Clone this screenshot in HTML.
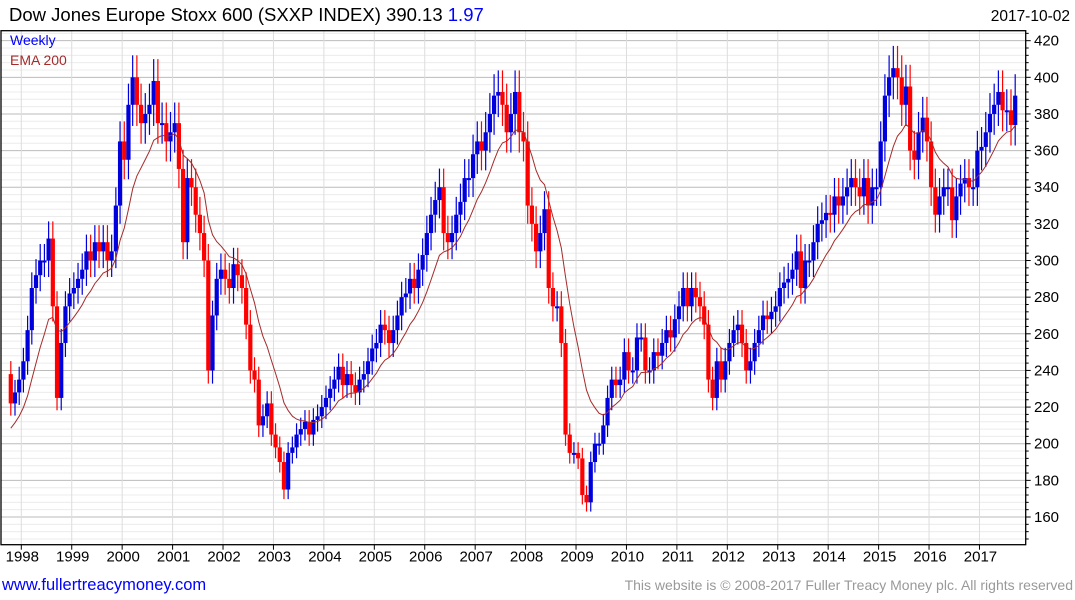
<!DOCTYPE html>
<html><head><meta charset="utf-8"><style>
body{margin:0;background:#fff;width:1075px;height:600px;overflow:hidden;font-family:"Liberation Sans",sans-serif}
svg{position:absolute;left:0;top:0}
</style></head><body>
<svg id="c" width="1075" height="600" xmlns="http://www.w3.org/2000/svg">
<text x="9" y="21" font-size="18.5" fill="#000">Dow Jones Europe Stoxx 600 (SXXP INDEX) 390.13 <tspan fill="#0000ff">1.97</tspan></text>
<text x="1070" y="21" font-size="15.5" text-anchor="end" fill="#000">2017-10-02</text>
<g id="grid"></g><g id="bars"></g><g id="ema"></g><g id="axes"></g>
<text x="10" y="45" font-size="14" fill="#0000ff">Weekly</text>
<text x="10" y="65" font-size="14" fill="#a52a2a">EMA 200</text>
<text x="2" y="590" font-size="16.5" fill="#0000ff">www.fullertreacymoney.com</text>
<text x="1073" y="590" font-size="14" text-anchor="end" fill="#999">This website is © 2008-2017 Fuller Treacy Money plc. All rights reserved</text>
</svg>
<script>
// monthly closes, Oct 1997 .. Sep 2017
const closes1997 = [222,228,235];
const closes1998 = [245,262,285,292,300,300,312,275,225,255,275,282];
const closes1999 = [285,290,295,305,300,310,305,310,300,305,330,365];
const closes2000 = [355,385,400,385,375,380,385,398,375,375,365,370];
const closes2001 = [375,350,310,345,340,325,315,300,240,270,290,295];
const closes2002 = [290,285,298,292,285,265,240,235,210,215,222,205];
const closes2003 = [198,190,175,195,198,205,208,212,205,213,215,220];
const closes2004 = [225,230,235,242,232,238,232,228,235,238,245,252];
const closes2005 = [255,265,262,255,262,270,280,282,290,285,295,303];
const closes2006 = [315,325,333,340,315,310,315,325,332,345,345,358];
const closes2007 = [365,360,370,380,390,392,385,370,380,392,370,365];
const closes2008 = [330,320,305,315,328,285,275,275,255,205,195,195];
const closes2009 = [192,172,168,190,200,200,210,225,235,232,235,250];
const closes2010 = [240,240,258,258,240,240,250,248,255,262,258,268];
const closes2011 = [275,285,275,285,280,275,265,235,225,245,235,245];
const closes2012 = [255,262,265,255,240,245,255,262,270,268,272,275];
const closes2013 = [285,288,290,295,305,285,300,300,310,320,322,326];
const closes2014 = [325,335,330,335,340,345,340,335,345,330,340,340];
const closes2015 = [365,390,400,405,400,385,395,360,355,370,378,365];
const closes2016 = [340,325,335,340,340,322,335,342,345,340,340,360];
const closes2017 = [362,370,380,385,392,382,382,374,390];
const closes = [].concat(closes1997,closes1998,closes1999,closes2000,closes2001,closes2002,closes2003,closes2004,closes2005,closes2006,closes2007,closes2008,closes2009,closes2010,closes2011,closes2012,closes2013,closes2014,closes2015,closes2016,closes2017);
const firstOpen = 238;
const emaSeed = 206;
const yearLabels = [1998,1999,2000,2001,2002,2003,2004,2005,2006,2007,2008,2009,2010,2011,2012,2013,2014,2015,2016,2017];
const yTicks = [160,180,200,220,240,260,280,300,320,340,360,380,400,420];

const NS="http://www.w3.org/2000/svg";
const L=1,R=1025.7,T=30.7,B=544.7;
function xYear(t){return 21.3+(t-1998)*50.43;}
function xMonth(i){return xYear(1997.75+i/12+1/24);}
function yVal(v){return 517-(v-160)*1.832;}
function mk(tag,attrs,parent){const e=document.createElementNS(NS,tag);for(const k in attrs)e.setAttribute(k,attrs[k]);parent.appendChild(e);return e;}
const grid=document.getElementById('grid'),bars=document.getElementById('bars'),emaG=document.getElementById('ema'),axes=document.getElementById('axes');

for(let v=148;v<=424;v+=4){
  const major=(v%20===0);
  const ln=mk('line',{x1:L,x2:R,y1:yVal(v),y2:yVal(v),stroke:major?'#bbbbbb':'#ececec','stroke-width':1},grid);
  
  
  const tk=mk('line',{x1:R,x2:R+(major?5:3),y1:yVal(v),y2:yVal(v),stroke:'#000'},axes);
  
  
}
yTicks.forEach(v=>{
  const t=mk('text',{x:1034,y:yVal(v)+5,'font-size':15,fill:'#000'},axes);
  t.textContent=v;
  
  
});
yearLabels.forEach(yr=>{
  const x=xYear(yr);
  const g=mk('line',{x1:x,x2:x,y1:T,y2:B,stroke:'#dddddd'},grid);
  
  
  const tk=mk('line',{x1:x,x2:x,y1:B,y2:B+5,stroke:'#000'},axes);
  
  
  const t=mk('text',{x:x+1,y:B+17,'font-size':15,'text-anchor':'middle',fill:'#000'},axes);
  t.textContent=yr;
  
  
});
const fr=mk('rect',{x:L,y:T,width:R-L,height:B-T,fill:'none',stroke:'#000','stroke-width':1.3},axes);



let prev=firstOpen, ema=emaSeed; const a=2/13; let pts=[];
closes.forEach((c,i)=>{
  const x=xMonth(i), up=c>=prev, col=up?'#0000dd':'#ff0000';
  const hi=Math.max(prev,c)*1.03, lo=Math.min(prev,c)*0.97;
  const w=mk('line',{x1:x,x2:x,y1:yVal(hi),y2:yVal(lo),stroke:col,'stroke-width':1.2},bars);
  
  
  const top=yVal(Math.max(prev,c)), bot=yVal(Math.min(prev,c));
  const b=mk('rect',{x:x-2.1,y:top,width:4.2,height:Math.max(2,bot-top),fill:col},bars);
  
  
  ema=ema+a*(c-ema); pts.push(x.toFixed(1)+','+yVal(ema).toFixed(1));
  prev=c;
});
const pl=mk('polyline',{points:pts.join(' '),fill:'none',stroke:'#a52a2a','stroke-width':1},emaG);


</script>
</body></html>
